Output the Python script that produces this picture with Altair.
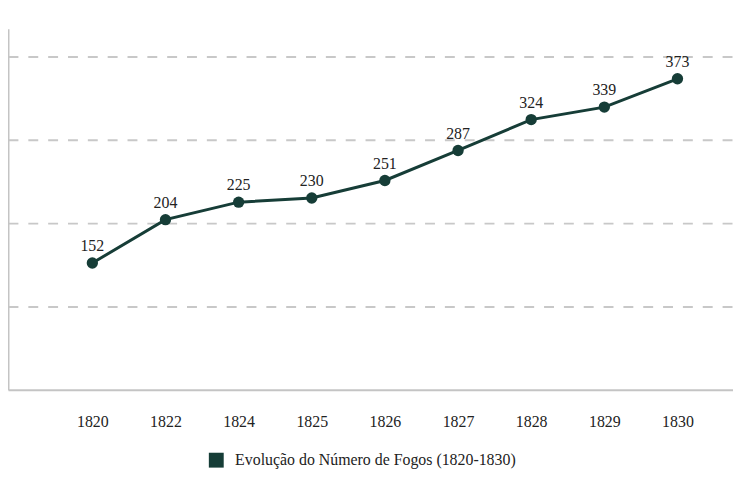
import altair as alt
import pandas as pd

years = ["1820", "1822", "1824", "1825", "1826", "1827", "1828", "1829", "1830"]
values = [152, 204, 225, 230, 251, 287, 324, 339, 373]
series_name = "Evolução do Número de Fogos (1820-1830)"
grid_values = [100, 200, 300, 400]

df = pd.DataFrame({"ano": years, "fogos": values, "serie": [series_name] * len(years)})

GREEN = "#163d37"
FONT = "Liberation Serif"

x = alt.X("ano:O", sort=years, title=None,
          scale=alt.Scale(type="point", padding=0.956, align=0.603),
          axis=alt.Axis(labelAngle=0, ticks=False, grid=False, domain=True,
                        domainColor="#c4c4c4", domainWidth=2,
                        labelFont=FONT, labelFontSize=16, labelColor="#222222",
                        labelPadding=24))
y = alt.Y("fogos:Q", title=None,
          scale=alt.Scale(domain=[0, 433], nice=False, zero=True),
          axis=alt.Axis(values=grid_values, labels=False, ticks=False,
                        grid=True, gridColor="#c8c8c8", gridWidth=2,
                        gridDash=[10, 10], domain=True,
                        domainColor="#c4c4c4", domainWidth=2))

line = alt.Chart(df).mark_line(color=GREEN, strokeWidth=3).encode(x=x, y=y)

points = alt.Chart(df).mark_point(filled=True, size=130, opacity=1, shape="circle").encode(
    x=x, y=y,
    color=alt.Color("serie:N", scale=alt.Scale(range=[GREEN]), title=None,
                    legend=alt.Legend(orient="none", legendX=202, legendY=427,
                                      symbolType="square", symbolSize=225,
                                      symbolStrokeWidth=0, symbolOpacity=1,
                                      labelFont=FONT, labelFontSize=16,
                                      labelColor="#222222", labelOffset=11,
                                      labelLimit=500, padding=0))
)

labels = alt.Chart(df).mark_text(dy=-17, font=FONT, fontSize=16, color="#222222",
                                 baseline="middle").encode(
    x=x, y=y, text="fogos:Q")

chart = (line + points + labels).properties(
    width=731, height=364,
    background="white",
    autosize=alt.AutoSizeParams(type="none"),
    padding={"left": 0, "top": 19, "right": 0, "bottom": 80},
).configure_view(strokeWidth=0, stroke="transparent")

chart.save("out.html", embed_options={"renderer": "svg", "actions": False})
